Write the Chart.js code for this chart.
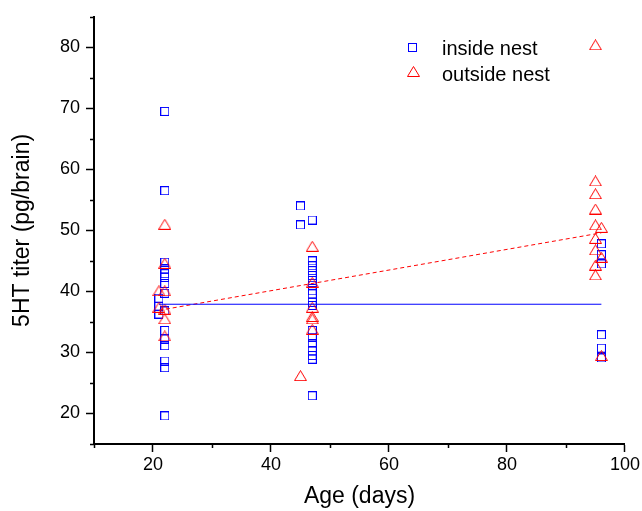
<!DOCTYPE html>
<html>
<head>
<meta charset="utf-8">
<title>5HT titer by age</title>
<script src="https://cdn.jsdelivr.net/npm/chart.js@4.4.1/dist/chart.umd.min.js"></script>
<style>
  html, body { margin: 0; padding: 0; background: #fff; }
  canvas { display: block; }
</style>
</head>
<body>
<canvas id="titerChart" width="642" height="511"></canvas>
<script>
// Ants sampled inside the nest: age (days) and 5HT titer (pg/brain)
const insideAge = [
    22, 22, 22, 22, 22, 22, 22, 22, 22, 22, 22, 22, 22, 22, 22,
    21, 21, 21,
    45, 45,
    47, 47, 47, 47, 47, 47, 47, 47, 47, 47, 47, 47, 47, 47, 47, 47, 47, 47,
    96, 96, 96, 96, 96, 96
];
const insideTiter = [
    69.5, 56.5, 44.8, 43.7, 42.9, 42.3, 41.3, 39.7, 36.8, 33.6, 32.2, 31.1, 28.6, 27.5, 19.6,
    38.9, 37.6, 36.3,
    54.0, 50.9,
    51.7, 45.0, 44.2, 43.4, 42.6, 41.8, 41.0, 40.1, 39.6, 38.2, 37.7, 33.6, 32.5, 31.4, 30.3, 29.5, 28.9, 22.9,
    47.8, 46.0, 44.5, 32.9, 30.7, 29.1
];

// Ants sampled outside the nest
const outsideAge = [
    22, 22, 22, 22, 22, 22,
    21, 21,
    45,
    47, 47, 47, 47, 47, 47,
    95, 95, 95, 95, 95, 95, 95, 95, 95,
    96, 96, 96
];
const outsideTiter = [
    51.0, 44.6, 40.1, 37.1, 35.5, 32.7,
    40.1, 37.4,
    26.2,
    47.4, 41.5, 37.4, 35.9, 35.5, 33.8,
    80.4, 58.1, 56.0, 53.5, 50.9, 48.7, 46.8, 44.3, 42.7,
    50.5, 45.6, 29.5
];

// Linear fits, evaluated at the ends of the age range
const fitAge = [21, 96];
const insideFit = [37.9, 37.9];
const outsideFit = [36.9, 49.6];

const xTicks = [20, 40, 60, 80, 100];
const yTicks = [20, 30, 40, 50, 60, 70, 80];

const BLUE = '#0000ff';
const RED = '#ff0000';
const FONT = "'Liberation Sans', Arial, sans-serif";

// Open square marker
function makeSquare() {
    const c = document.createElement('canvas');
    c.width = 9; c.height = 9;
    const g = c.getContext('2d');
    g.strokeStyle = BLUE;
    g.lineWidth = 1;
    g.strokeRect(0.5, 0.5, 8, 8);
    return c;
}

// Open triangle marker
function makeTriangle() {
    const c = document.createElement('canvas');
    c.width = 13; c.height = 11;
    const g = c.getContext('2d');
    g.strokeStyle = RED;
    g.lineWidth = 1;
    g.beginPath();
    g.moveTo(0.5, 10.5);
    g.lineTo(12.5, 10.5);
    g.lineTo(6.5, 0.5);
    g.closePath();
    g.stroke();
    return c;
}

const squareMark = makeSquare();
const triangleMark = makeTriangle();

function pairs(xs, ys) {
    return xs.map((x, i) => ({ x: x, y: ys[i] }));
}

// Short minor ticks between the labelled ones
const minorTicks = {
    id: 'minorTicks',
    afterDraw(chart) {
        const { ctx, scales: { x, y } } = chart;
        ctx.save();
        ctx.strokeStyle = '#000';
        ctx.lineWidth = 1.5;
        ctx.beginPath();
        for (let v = 10; v <= 100; v += 10) {
            if (xTicks.includes(v)) continue;
            const px = Math.round(x.getPixelForValue(v)) + 0.5;
            ctx.moveTo(px, y.bottom);
            ctx.lineTo(px, y.bottom + 4);
        }
        for (let v = 15; v <= 85; v += 10) {
            const py = Math.round(y.getPixelForValue(v)) + 0.5;
            ctx.moveTo(x.left, py);
            ctx.lineTo(x.left - 4, py);
        }
        ctx.stroke();
        ctx.restore();
    }
};

// Legend in the upper right of the plot
const insetLegend = {
    id: 'insetLegend',
    afterDraw(chart) {
        const ctx = chart.ctx;
        ctx.save();
        ctx.drawImage(squareMark, 408, 43);
        ctx.drawImage(triangleMark, 407, 66);
        ctx.fillStyle = '#000';
        ctx.font = '20px ' + FONT;
        ctx.textBaseline = 'alphabetic';
        ctx.fillText('inside nest', 442, 55);
        ctx.fillText('outside nest', 442, 81);
        ctx.restore();
    }
};

new Chart(document.getElementById('titerChart'), {
    type: 'scatter',
    data: {
        datasets: [
            {
                label: 'inside nest',
                data: pairs(insideAge, insideTiter),
                pointStyle: squareMark,
                pointRadius: 5,
                order: 2
            },
            {
                label: 'outside nest',
                data: pairs(outsideAge, outsideTiter),
                pointStyle: triangleMark,
                pointRadius: 6,
                order: 1
            },
            {
                label: 'inside fit',
                data: pairs(fitAge, insideFit),
                showLine: true,
                borderColor: BLUE,
                borderWidth: 1,
                pointRadius: 0,
                order: 0
            },
            {
                label: 'outside fit',
                data: pairs(fitAge, outsideFit),
                showLine: true,
                borderColor: RED,
                borderWidth: 1,
                borderDash: [4, 3],
                pointRadius: 0,
                order: 0
            }
        ]
    },
    options: {
        responsive: false,
        animation: false,
        layout: { padding: { top: 15, right: 17, bottom: 0, left: 0 } },
        plugins: {
            legend: { display: false },
            tooltip: { enabled: false }
        },
        scales: {
            x: {
                type: 'linear',
                min: 10,
                max: 100,
                afterFit: (scale) => { scale.height = 67; },
                afterBuildTicks: (scale) => {
                    scale.ticks = xTicks.map(v => ({ value: v }));
                },
                border: { display: true, color: '#000', width: 2 },
                grid: {
                    drawOnChartArea: false,
                    tickLength: 8,
                    tickWidth: 1.5,
                    tickColor: '#000'
                },
                ticks: {
                    color: '#000',
                    padding: 2,
                    maxRotation: 0,
                    font: { family: FONT, size: 18 }
                },
                title: {
                    display: true,
                    text: 'Age (days)',
                    color: '#000',
                    padding: { top: 0, bottom: 1 },
                    font: { family: FONT, size: 23 }
                }
            },
            y: {
                type: 'linear',
                min: 15,
                max: 85,
                afterFit: (scale) => { scale.width = 94; },
                afterBuildTicks: (scale) => {
                    scale.ticks = yTicks.map(v => ({ value: v }));
                },
                border: { display: true, color: '#000', width: 2 },
                grid: {
                    drawOnChartArea: false,
                    tickLength: 8,
                    tickWidth: 1.5,
                    tickColor: '#000'
                },
                ticks: {
                    color: '#000',
                    padding: 6,
                    font: { family: FONT, size: 18 }
                },
                title: {
                    display: true,
                    text: '5HT titer (pg/brain)',
                    color: '#000',
                    padding: { top: 9, bottom: 0 },
                    font: { family: FONT, size: 23 }
                }
            }
        }
    },
    plugins: [minorTicks, insetLegend]
});
</script>
</body>
</html>
